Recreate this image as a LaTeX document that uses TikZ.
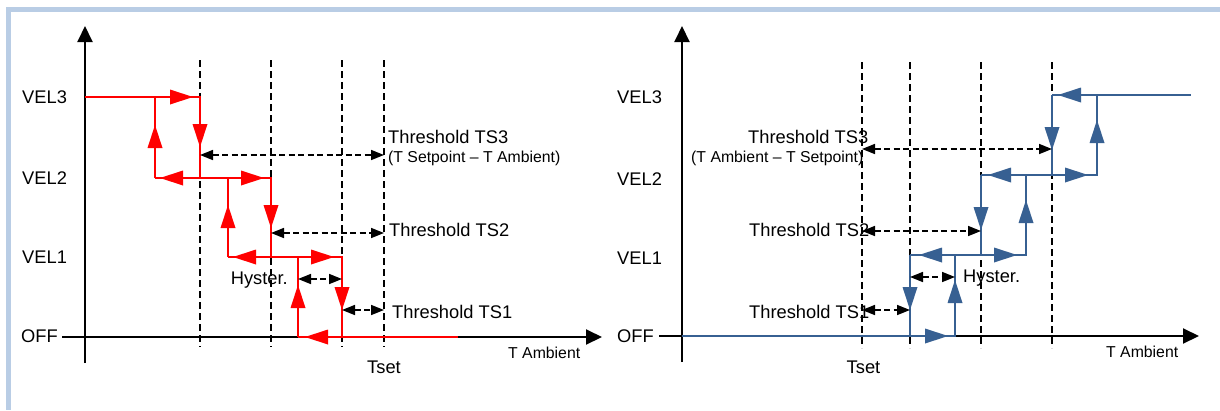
\documentclass[tikz,border=0pt]{standalone}
\usepackage{fontspec}
\setmainfont{Liberation Sans}
\usetikzlibrary{arrows.meta}
\definecolor{frameblue}{RGB}{185,205,229}
\definecolor{stepblue}{RGB}{55,96,146}
\begin{document}
\begin{tikzpicture}[x=1pt,y=-1pt,
  axis/.style={line width=2pt, -{Triangle[length=16pt,width=15pt]}},
  guide/.style={line width=1.8pt, dash pattern=on 7pt off 4pt},
  dim/.style={line width=1.6pt, dash pattern=on 6pt off 3.5pt,
    {Triangle[length=13pt,width=10pt]}-{Triangle[length=13pt,width=10pt]}},
  redstep/.style={line width=1.8pt, red},
  bluestep/.style={line width=1.8pt, stepblue},
  lbl/.style={inner sep=0pt, font=\fontsize{18.3}{20}\selectfont, anchor=base west},
  sm/.style={inner sep=0pt, font=\fontsize{15.8}{18}\selectfont, anchor=base west},
  tri/.pic={\fill (0,0) -- (-23,7.5) -- (-23,-7.5) -- cycle;}
]
\useasboundingbox (0,0) rectangle (1220,410);
\fill[white] (0,0) rectangle (1220,410);
\fill[frameblue] (6,7) rectangle (1220,12);
\fill[frameblue] (6,7) rectangle (11,410);

% ---------- LEFT DIAGRAM ----------
\node[lbl] (LV3) at (22,103.5) {VEL3};
\node[lbl] (LV2) at (22,184.5) {VEL2};
\node[lbl] (LV1) at (22,263.5) {VEL1};
\node[lbl] (LOFF) at (21,342.5) {OFF};
\node[lbl] (LTS3) at (388,143.5) {Threshold TS3};
\node[sm] (LTS3b) at (388,162.5) {(T Setpoint – T Ambient)};
\node[lbl] (LTS2) at (389,236.5) {Threshold TS2};
\node[lbl] (LTS1) at (392,318.5) {Threshold TS1};
\node[lbl, anchor=base east] (LHy) at (288,284.5) {Hyster.};
\node[lbl, anchor=base] (LTset) at (384,373.5) {Tset};
\node[sm] (LTamb) at (508,358) {T Ambient};

% guides
\foreach \n/\x in {a/200,b/271,c/342,d/384}{
  \coordinate (Lg\n t) at (\x,60);
  \coordinate (Lg\n b) at (\x,347);
  \draw[guide] (Lg\n t) -- (Lg\n b);
}
% axes
\coordinate (LyB) at (85,363);
\coordinate (LyT) at (85,26);
\coordinate (LxL) at (62,337);
\coordinate (LxR) at (602,337);
\draw[axis] (LyB) -- (LyT);
\draw[axis] (LxL) -- (LxR);

% red step path
\coordinate (r0) at (85,97);
\coordinate (r1) at (200,97);
\coordinate (r2) at (200,178);
\coordinate (r3) at (155,178);
\coordinate (r4) at (155,97);
\coordinate (r5) at (271,178);
\coordinate (r6) at (271,257);
\coordinate (r7) at (228,257);
\coordinate (r8) at (228,178);
\coordinate (r9) at (342,257);
\coordinate (r10) at (342,337);
\coordinate (r11) at (298,337);
\coordinate (r12) at (298,257);
\coordinate (r13) at (458,337);
\draw[redstep] (r0) -- (r1) -- (r2);
\draw[redstep] (r3) -- (r4);
\draw[redstep] (r3) -- (r5) -- (r6);
\draw[redstep] (r7) -- (r8);
\draw[redstep] (r7) -- (r9) -- (r10);
\draw[redstep] (r11) -- (r12);
\draw[redstep] (r11) -- (r13);
\pic[red] at (193,97) {tri};
\pic[red,rotate=-90] at (200,147) {tri};
\pic[red,rotate=90] at (155,125) {tri};
\pic[red,rotate=180] at (160,178) {tri};
\pic[red] at (264,178) {tri};
\pic[red,rotate=90] at (228,205) {tri};
\pic[red,rotate=-90] at (271,228) {tri};
\pic[red,rotate=180] at (233,257) {tri};
\pic[red] at (334,257) {tri};
\pic[red,rotate=90] at (298,285) {tri};
\pic[red,rotate=-90] at (342,310) {tri};
\pic[red,rotate=180] at (305,337) {tri};

% dimension arrows
\coordinate (Ld3a) at (200,155); \coordinate (Ld3b) at (384,155);
\coordinate (Ld2a) at (271,233); \coordinate (Ld2b) at (384,233);
\coordinate (Ldha) at (298,279); \coordinate (Ldhb) at (342,279);
\coordinate (Ld1a) at (342,310); \coordinate (Ld1b) at (384,310);
\draw[dim] (Ld3a) -- (Ld3b);
\draw[dim] (Ld2a) -- (Ld2b);
\draw[dim] (Ldha) -- (Ldhb);
\draw[dim] (Ld1a) -- (Ld1b);

% ---------- RIGHT DIAGRAM ----------
\node[lbl] (RV3) at (617,103.5) {VEL3};
\node[lbl] (RV2) at (617,185) {VEL2};
\node[lbl] (RV1) at (617,264) {VEL1};
\node[lbl] (ROFF) at (617,342.5) {OFF};
\node[lbl] (RTS3) at (748,143.5) {Threshold TS3};
\node[sm] (RTS3b) at (691,162.5) {(T Ambient – T Setpoint)};
\node[lbl] (RTS2) at (749,236.5) {Threshold TS2};
\node[lbl] (RTS1) at (749,318.5) {Threshold TS1};
\node[lbl] (RHy) at (963,282) {Hyster.};
\node[lbl, anchor=base] (RTset) at (863.5,373.5) {Tset};
\node[sm] (RTamb) at (1106,357.5) {T Ambient};

\foreach \n/\x in {a/862,b/910,c/981,d/1052}{
  \coordinate (Rg\n t) at (\x,62);
  \coordinate (Rg\n b) at (\x,348);
  \draw[guide] (Rg\n t) -- (Rg\n b);
}
\coordinate (RyB) at (682,362);
\coordinate (RyT) at (682,26);
\coordinate (RxL) at (659,336);
\coordinate (RxR) at (1199,336);
\draw[axis] (RyB) -- (RyT);
\draw[axis] (RxL) -- (RxR);

\coordinate (b0) at (682,336);
\coordinate (b1) at (955,336);
\coordinate (b2) at (955,255);
\coordinate (b3) at (910,255);
\coordinate (b4) at (910,336);
\coordinate (b5) at (1026,255);
\coordinate (b6) at (1026,175);
\coordinate (b7) at (981,175);
\coordinate (b8) at (981,255);
\coordinate (b9) at (1097,175);
\coordinate (b10) at (1097,95);
\coordinate (b11) at (1052,95);
\coordinate (b12) at (1052,175);
\coordinate (b13) at (1191,95);
\draw[bluestep] (b0) -- (b1) -- (b2);
\draw[bluestep] (b3) -- (b4);
\draw[bluestep] (b3) -- (b5) -- (b6);
\draw[bluestep] (b7) -- (b8);
\draw[bluestep] (b7) -- (b9) -- (b10);
\draw[bluestep] (b11) -- (b12);
\draw[bluestep] (b11) -- (b13);
\pic[stepblue] at (948,336) {tri};
\pic[stepblue,rotate=90] at (955,280) {tri};
\pic[stepblue,rotate=-90] at (910,310) {tri};
\pic[stepblue,rotate=180] at (919,255) {tri};
\pic[stepblue] at (1017,255) {tri};
\pic[stepblue,rotate=90] at (1026,200) {tri};
\pic[stepblue,rotate=-90] at (981,230) {tri};
\pic[stepblue,rotate=180] at (988,175) {tri};
\pic[stepblue] at (1088,175) {tri};
\pic[stepblue,rotate=90] at (1097,120) {tri};
\pic[stepblue,rotate=-90] at (1052,150) {tri};
\pic[stepblue,rotate=180] at (1058,95) {tri};

\coordinate (Rd3a) at (862,149); \coordinate (Rd3b) at (1052,149);
\coordinate (Rd2a) at (862,231); \coordinate (Rd2b) at (981,231);
\coordinate (Rdha) at (910,277); \coordinate (Rdhb) at (955,277);
\coordinate (Rd1a) at (862,310); \coordinate (Rd1b) at (910,310);
\draw[dim] (Rd3a) -- (Rd3b);
\draw[dim] (Rd2a) -- (Rd2b);
\draw[dim] (Rdha) -- (Rdhb);
\draw[dim] (Rd1a) -- (Rd1b);
\end{tikzpicture}
\end{document}
